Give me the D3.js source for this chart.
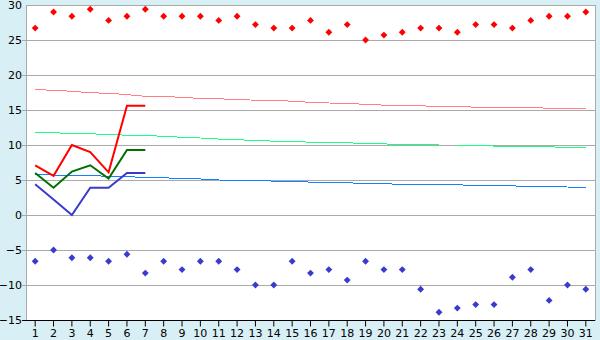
<!DOCTYPE html>
<html>
<head>
<meta charset="utf-8">
<script src="https://cdn.jsdelivr.net/npm/d3@7"></script>
<style>
  body { margin: 0; background: #d9eff6; }
  svg text { font-family: "DejaVu Sans", sans-serif; font-size: 11px; fill: #000; }
</style>
</head>
<body>
<script>
"use strict";
(function(){
    // days of the month
    const days = d3.range(1, 32)
    const yTicks = [-15, -10, -5, 0, 5, 10, 15, 20, 25, 30]

    // record highs / lows (diamonds)
    const recordMax = [26.7, 29.0, 28.4, 29.4, 27.8, 28.4, 29.4, 28.4, 28.4, 28.4,
        27.8, 28.4, 27.2, 26.7, 26.7, 27.8, 26.1, 27.2, 25.0, 25.7,
        26.1, 26.7, 26.7, 26.1, 27.2, 27.2, 26.7, 27.8, 28.4, 28.4, 29.0]
    const recordMin = [-6.6, -5.0, -6.1, -6.1, -6.6, -5.6, -8.3, -6.6, -7.8, -6.6,
        -6.6, -7.8, -10.0, -10.0, -6.6, -8.3, -7.8, -9.3, -6.6, -7.8,
        -7.8, -10.6, -13.9, -13.3, -12.8, -12.8, -8.9, -7.8, -12.2, -10.0, -10.6]

    // normals
    const normalMax = [18.0, 17.75, 17.7, 17.45, 17.4, 17.2, 16.95, 16.95, 16.8, 16.65,
        16.6, 16.5, 16.4, 16.4, 16.25, 16.1, 16.0, 15.95, 15.8, 15.7,
        15.65, 15.6, 15.5, 15.5, 15.4, 15.4, 15.35, 15.35, 15.25, 15.25, 15.2]
    const normalMean = [11.8, 11.75, 11.65, 11.6, 11.5, 11.4, 11.35, 11.25, 11.1, 11.0,
        10.85, 10.75, 10.65, 10.55, 10.5, 10.4, 10.4, 10.3, 10.25, 10.15,
        10.1, 10.05, 10.0, 10.0, 9.95, 9.85, 9.8, 9.75, 9.72, 9.7, 9.7]
    const normalMin = [5.8, 5.72, 5.65, 5.6, 5.55, 5.45, 5.4, 5.3, 5.25, 5.15,
        5.0, 4.95, 4.9, 4.85, 4.8, 4.7, 4.65, 4.6, 4.5, 4.45,
        4.4, 4.38, 4.35, 4.3, 4.25, 4.2, 4.15, 4.1, 4.05, 4.0, 3.95]

    // observed so far (days 1-7)
    const obsMax = [7.1, 5.6, 10.0, 9.0, 6.1, 15.6, 15.6]
    const obsMean = [6.0, 3.9, 6.2, 7.1, 5.2, 9.3, 9.3]
    const obsMin = [4.4, 2.2, 0.0, 3.9, 3.9, 6.0, 6.0]

    const measurements = { width: 600, height: 340, left: 26, right: 595, top: 5, bottom: 320 }

    const svg = d3.select("body").append("svg")
        .attr("width", measurements.width)
        .attr("height", measurements.height)

    const scaleX = d3.scaleBand()
        .domain(days)
        .range([measurements.left, measurements.right])
    const scaleY = d3.scaleLinear()
        .domain([-15, 30])
        .range([measurements.bottom, measurements.top])
    const cx = (d) => scaleX(d) + scaleX.bandwidth() / 2

    // plot area
    svg.append("rect")
        .attr("x", measurements.left)
        .attr("y", measurements.top)
        .attr("width", measurements.right - measurements.left)
        .attr("height", measurements.bottom - measurements.top)
        .attr("fill", "#fff")
        .attr("stroke", "#aaa")
        .attr("shape-rendering", "crispEdges")

    // gridlines (poke out a little left of the axis like ticks)
    svg.append("g").selectAll("line")
        .data(yTicks.slice(1, -1))
        .enter().append("line")
            .attr("x1", measurements.left - 4)
            .attr("x2", measurements.right)
            .attr("y1", (d) => Math.round(scaleY(d)) + 0.5)
            .attr("y2", (d) => Math.round(scaleY(d)) + 0.5)
            .attr("stroke", "#aaa")

    // y axis labels
    const yAxis = d3.axisLeft(scaleY).tickValues(yTicks).tickSize(0).tickPadding(4)
    const gy = svg.append("g")
        .attr("transform", `translate(${measurements.left},0)`)
        .call(yAxis)
    gy.select(".domain").remove()
    gy.attr("font-family", null).attr("font-size", null)

    // x axis
    const xAxis = d3.axisBottom(scaleX).tickSize(6).tickSizeOuter(0).tickPadding(3)
    const gx = svg.append("g")
        .attr("transform", `translate(0,${measurements.bottom + 0.5})`)
        .call(xAxis)
    gx.select(".domain").attr("d", `M${measurements.left - 4},0H${measurements.right}`).attr("stroke", "#000")
    gx.selectAll(".tick line").attr("stroke", "#000")
    gx.attr("font-family", null).attr("font-size", null)

    // normal lines (thin, stepped look)
    const normals = [
        { values: normalMax, color: "#ff8080" },
        { values: normalMean, color: "#1aff80" },
        { values: normalMin, color: "#1480ff" }
    ]
    const line = d3.line()
        .x((d, i) => cx(days[i]))
        .y((d) => scaleY(d))

    normals.forEach(function(s) {
        svg.append("path")
            .datum(s.values)
            .attr("d", line)
            .attr("fill", "none")
            .attr("stroke", s.color)
            .attr("stroke-width", 1)
            .attr("shape-rendering", "crispEdges")
    })

    // observed lines
    const observed = [
        { values: obsMin, color: "#3a3acc" },
        { values: obsMean, color: "#007000" },
        { values: obsMax, color: "#ff0000" }
    ]
    observed.forEach(function(s) {
        svg.append("path")
            .datum(s.values)
            .attr("d", line)
            .attr("fill", "none")
            .attr("stroke", s.color)
            .attr("stroke-width", 2)
    })

    // record markers
    const diamond = d3.symbol().type(d3.symbolDiamond2 || d3.symbolDiamond).size(30)
    const records = [
        { values: recordMax, color: "#ff0000" },
        { values: recordMin, color: "#3a3acc" }
    ]
    records.forEach(function(s) {
        svg.append("g").selectAll("path")
            .data(s.values)
            .enter().append("path")
                .attr("d", diamond)
                .attr("transform", (d, i) => `translate(${cx(days[i])},${scaleY(d)})`)
                .attr("fill", s.color)
    })
})()
</script>
</body>
</html>
